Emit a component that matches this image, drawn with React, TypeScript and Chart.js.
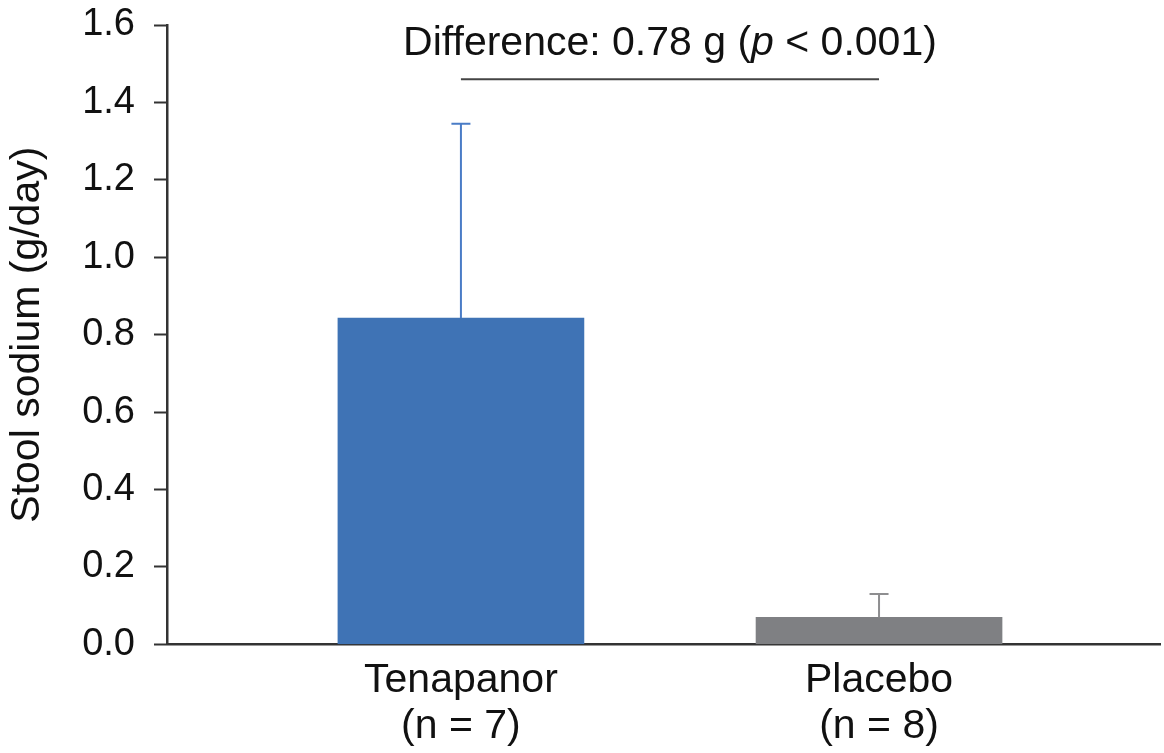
import React, { useEffect, useRef } from "react";
import { Chart, registerables } from "chart.js";

Chart.register(...registerables);

const categories: string[][] = [["Tenapanor", "(n = 7)"], ["Placebo", "(n = 8)"]];
const meanValues: number[] = [0.843, 0.07];
const upperError: number[] = [1.345, 0.13];
const barColors: string[] = ["#3F73B5", "#7F8083"];
const errorColors: string[] = ["#4A7CC6", "#8E8E90"];
const yTicks: number[] = [0, 0.2, 0.4, 0.6, 0.8, 1.0, 1.2, 1.4, 1.6];
const annotationParts: { text: string; italic: boolean }[] = [
  { text: "Difference: 0.78 g (", italic: false },
  { text: "p", italic: true },
  { text: " < 0.001)", italic: false },
];
const bracketValue = 1.46;
const annotationTextValue = 1.522;

const FONT = "'Liberation Sans', Arial, Helvetica, sans-serif";

const overlayPlugin = {
  id: "overlay",
  afterDatasetsDraw(chart: any) {
    const { ctx, scales } = chart;
    const x = scales.x;
    const y = scales.y;
    ctx.save();
    meanValues.forEach((m, i) => {
      const px = x.getPixelForValue(i);
      const yTop = y.getPixelForValue(m);
      const yErr = y.getPixelForValue(upperError[i]);
      ctx.strokeStyle = errorColors[i];
      ctx.lineWidth = 2;
      ctx.beginPath();
      ctx.moveTo(px, yTop);
      ctx.lineTo(px, yErr);
      ctx.moveTo(px - 9.5, yErr);
      ctx.lineTo(px + 9.5, yErr);
      ctx.stroke();
    });
    const x0 = x.getPixelForValue(0);
    const x1 = x.getPixelForValue(1);
    const yb = y.getPixelForValue(bracketValue);
    ctx.strokeStyle = "#444";
    ctx.lineWidth = 2;
    ctx.beginPath();
    ctx.moveTo(x0, yb);
    ctx.lineTo(x1, yb);
    ctx.stroke();
    const fontFor = (it: boolean) => `${it ? "italic " : ""}41px ${FONT}`;
    let total = 0;
    annotationParts.forEach((p) => {
      ctx.font = fontFor(p.italic);
      total += ctx.measureText(p.text).width;
    });
    let cx = (x0 + x1) / 2 - total / 2;
    const ty = y.getPixelForValue(annotationTextValue);
    ctx.fillStyle = "#111";
    ctx.textBaseline = "alphabetic";
    ctx.textAlign = "left";
    annotationParts.forEach((p) => {
      ctx.font = fontFor(p.italic);
      ctx.fillText(p.text, cx, ty);
      cx += ctx.measureText(p.text).width;
    });
    ctx.restore();
  },
};

export default function App() {
  const canvasRef = useRef<HTMLCanvasElement | null>(null);

  useEffect(() => {
    document.body.style.margin = "0";
    const canvas = canvasRef.current;
    if (!canvas) return;
    const chart = new Chart(canvas, {
      type: "bar",
      data: {
        datasets: [
          {
            data: meanValues.map((v, i) => ({ x: i, y: v })),
            backgroundColor: barColors,
            borderWidth: 0,
            barThickness: 246,
          },
        ],
      },
      options: {
        animation: false,
        responsive: true,
        maintainAspectRatio: false,
        layout: { padding: { top: 25, right: 4, bottom: -2, left: 0 } },
        plugins: {
          legend: { display: false },
          tooltip: { enabled: false },
        },
        scales: {
          x: {
            type: "linear",
            offset: false,
            min: -0.703,
            max: 1.672,
            afterBuildTicks: (scale: any) => {
              scale.ticks = categories.map((_, i) => ({ value: i }));
            },
            ticks: {
              callback: (v: any) => categories[Number(v)] ?? "",
              font: { family: FONT, size: 41, lineHeight: 1.13 },
              color: "#111",
              padding: 5,
              maxRotation: 0,
              autoSkip: false,
            },
            grid: { display: false, offset: false },
            border: { display: true, color: "#333", width: 2.5 },
          },
          y: {
            min: 0,
            max: 1.6,
            afterBuildTicks: (scale: any) => {
              scale.ticks = yTicks.map((v) => ({ value: v }));
            },
            afterFit: (scale: any) => {
              scale.width = 167;
              scale.paddingTop = 0;
              scale.paddingBottom = 0;
            },
            ticks: {
              callback: (v: any) => Number(v).toFixed(1),
              font: { family: FONT, size: 38 },
              color: "#111",
              padding: 19,
            },
            grid: {
              drawOnChartArea: false,
              drawTicks: true,
              tickLength: 13,
              tickColor: "#333",
              tickWidth: 2,
            },
            border: { display: true, color: "#333", width: 2.5 },
            title: {
              display: true,
              text: "Stool sodium (g/day)",
              font: { family: FONT, size: 41 },
              color: "#111",
              padding: { top: 3, bottom: 0 },
            },
          },
        },
      },
      plugins: [overlayPlugin],
    });
    return () => chart.destroy();
  }, []);

  return (
    <div style={{ width: 1164, height: 753, position: "relative" }}>
      <canvas ref={canvasRef} />
    </div>
  );
}
